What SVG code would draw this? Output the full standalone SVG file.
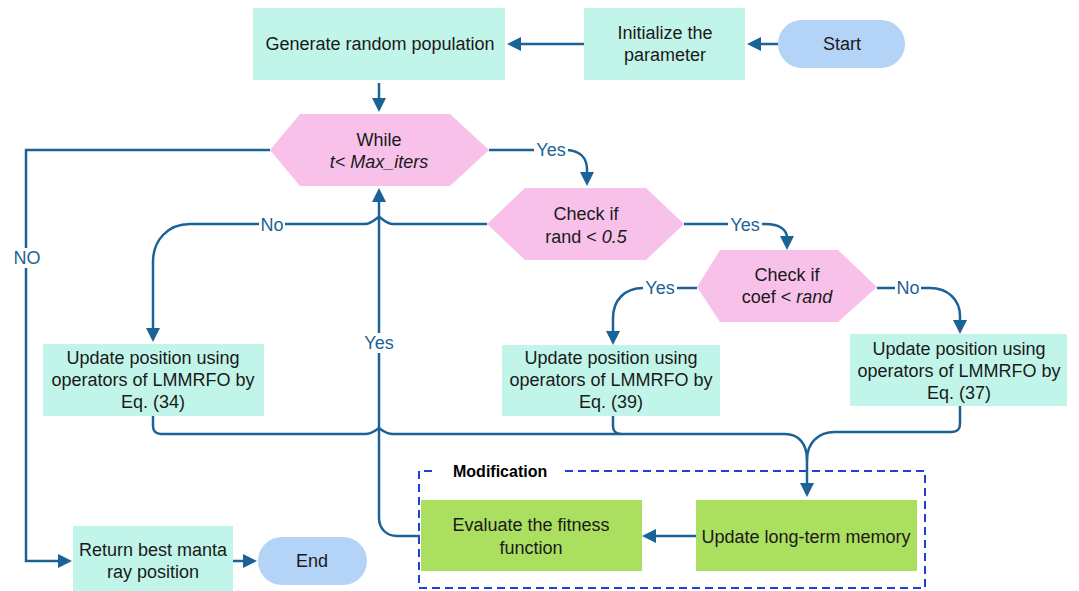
<svg xmlns="http://www.w3.org/2000/svg" width="1079" height="591" viewBox="0 0 1079 591">
<style>
  .box{fill:#c2f5e9}
  .hex{fill:#f8c1ea}
  .term{fill:#b3d3f7}
  .grn{fill:#abdf5f}
  text{font-family:"Liberation Sans",Arial,sans-serif;font-size:18px;fill:#1a1a1a;text-anchor:middle}
  .it{font-style:italic}
  .lbl{fill:#1b6396;font-size:18px}
  .lblbg{fill:#ffffff}
  .c{fill:none;stroke:#1b6396;stroke-width:2.5}
  .mod{fill:none;stroke:#1f3fd6;stroke-width:2;stroke-dasharray:8 5}
  .modt{font-weight:bold;font-size:16px;text-anchor:start;fill:#000}
</style>
<defs>
  <marker id="ah" markerUnits="userSpaceOnUse" markerWidth="14" markerHeight="14" refX="4" refY="7" orient="auto">
    <path d="M0,0 L14,7 L0,14 z" fill="#1b6396"/>
  </marker>
</defs>
<rect width="1079" height="591" fill="#ffffff"/>

<g id="modification">
  <path class="mod" d="M565,471 H925 V588 H419 V471 H433"/>
  <text class="modt" x="453" y="477">Modification</text>
</g>

<g id="connectors">
  <path class="c" marker-end="url(#ah)" d="M778,44 H757"/>
  <path class="c" marker-end="url(#ah)" d="M584,44 H517"/>
  <path class="c" marker-end="url(#ah)" d="M379,83 V102"/>
  <path class="c" marker-end="url(#ah)" d="M489,150 H565 C580,150 587,158 587,170 V176"/>
  <path class="c" marker-end="url(#ah)" d="M684,224 H765 C780,224 787,230 787,238 V240"/>
  <path class="c" marker-end="url(#ah)" d="M697,288 H643 C625,288 613,300 613,318 V335"/>
  <path class="c" marker-end="url(#ah)" d="M877,288 H930 C948,288 960,300 960,316 V324"/>
  <path class="c" marker-end="url(#ah)" d="M487,224 H393 C386,224 382,218 379,217 C376,218 372,224 365,224 H190 C168,224 153,240 153,262 V332"/>
  <path class="c" marker-end="url(#ah)" d="M270,150 H26 V561 H62"/>
  <path class="c" marker-end="url(#ah)" d="M233,561 H247"/>
  <path class="c" marker-end="url(#ah)" d="M420,536 H397 C386,536 379,528 379,518 V198"/>
  <path class="c" marker-end="url(#ah)" d="M153,416 V426 C153,431 156,434 161,434 H365 C372,434 376,430 379,428 C382,430 386,434 393,434 H785 C798,434 807,443 807,460 V487"/>
  <path class="c" d="M613,416 V426 C613,431 616,434 621,434"/>
  <path class="c" d="M960,406 V424 C960,429 957,432 952,432 H835 C818,432 807,443 807,460"/>
  <path class="c" marker-end="url(#ah)" d="M696,536 H652"/>
  <g id="labels">
    <rect class="lblbg" x="534" y="141" width="34" height="18"/>
    <text class="lbl" x="551" y="156">Yes</text>
    <rect class="lblbg" x="728" y="216" width="34" height="18"/>
    <text class="lbl" x="745" y="231">Yes</text>
    <rect class="lblbg" x="643" y="279" width="34" height="18"/>
    <text class="lbl" x="660" y="294">Yes</text>
    <rect class="lblbg" x="895" y="279" width="26" height="18"/>
    <text class="lbl" x="908" y="294">No</text>
    <rect class="lblbg" x="259" y="216" width="26" height="18"/>
    <text class="lbl" x="272" y="231">No</text>
    <rect class="lblbg" x="12" y="248" width="30" height="20"/>
    <text class="lbl" x="27" y="264">NO</text>
    <rect class="lblbg" x="362" y="333" width="34" height="20"/>
    <text class="lbl" x="379" y="349">Yes</text>
  </g>
</g>

<g id="start">
  <rect class="term" x="778" y="20" width="127" height="48" rx="24"/>
  <text x="842" y="50">Start</text>
</g>
<g id="init">
  <rect class="box" x="584" y="8" width="161" height="72"/>
  <text x="665" y="39">Initialize the</text>
  <text x="665" y="61">parameter</text>
</g>
<g id="generate">
  <rect class="box" x="253" y="8" width="252" height="72"/>
  <text x="380" y="50">Generate random population</text>
</g>
<g id="while">
  <polygon class="hex" points="270,150 300,114 450,114 489,150 450,186 300,186"/>
  <text x="379" y="146">While</text>
  <text x="379" y="168" class="it">t&lt; Max_iters</text>
</g>
<g id="check1">
  <polygon class="hex" points="487,224 525,188 646,188 684,224 646,260 525,260"/>
  <text x="586" y="220">Check if</text>
  <text x="586" y="243">rand &lt; <tspan class="it">0.5</tspan></text>
</g>
<g id="check2">
  <polygon class="hex" points="697,287 720,250 838,250 877,287 838,322 720,322"/>
  <text x="787" y="281">Check if</text>
  <text x="787" y="303">coef &lt; <tspan class="it">rand</tspan></text>
</g>
<g id="update34">
  <rect class="box" x="43" y="344" width="221" height="72"/>
  <text x="153" y="364">Update position using</text>
  <text x="153" y="386">operators of LMMRFO by</text>
  <text x="153" y="408">Eq. (34)</text>
</g>
<g id="update39">
  <rect class="box" x="502" y="345" width="218" height="71"/>
  <text x="611" y="364">Update position using</text>
  <text x="611" y="386">operators of LMMRFO by</text>
  <text x="611" y="408">Eq. (39)</text>
</g>
<g id="update37">
  <rect class="box" x="850" y="334" width="217" height="72"/>
  <text x="959" y="355">Update position using</text>
  <text x="959" y="377">operators of LMMRFO by</text>
  <text x="959" y="399">Eq. (37)</text>
</g>
<g id="evaluate">
  <rect class="grn" x="421" y="500" width="221" height="71"/>
  <text x="531" y="531">Evaluate the fitness</text>
  <text x="531" y="554">function</text>
</g>
<g id="ltm">
  <rect class="grn" x="696" y="500" width="221" height="71"/>
  <text x="806" y="543">Update long-term memory</text>
</g>
<g id="return">
  <rect class="box" x="73" y="526" width="160" height="66"/>
  <text x="153" y="556">Return best manta</text>
  <text x="153" y="578">ray position</text>
</g>
<g id="end">
  <rect class="term" x="258" y="537" width="109" height="48" rx="24"/>
  <text x="312" y="567">End</text>
</g>
</svg>
